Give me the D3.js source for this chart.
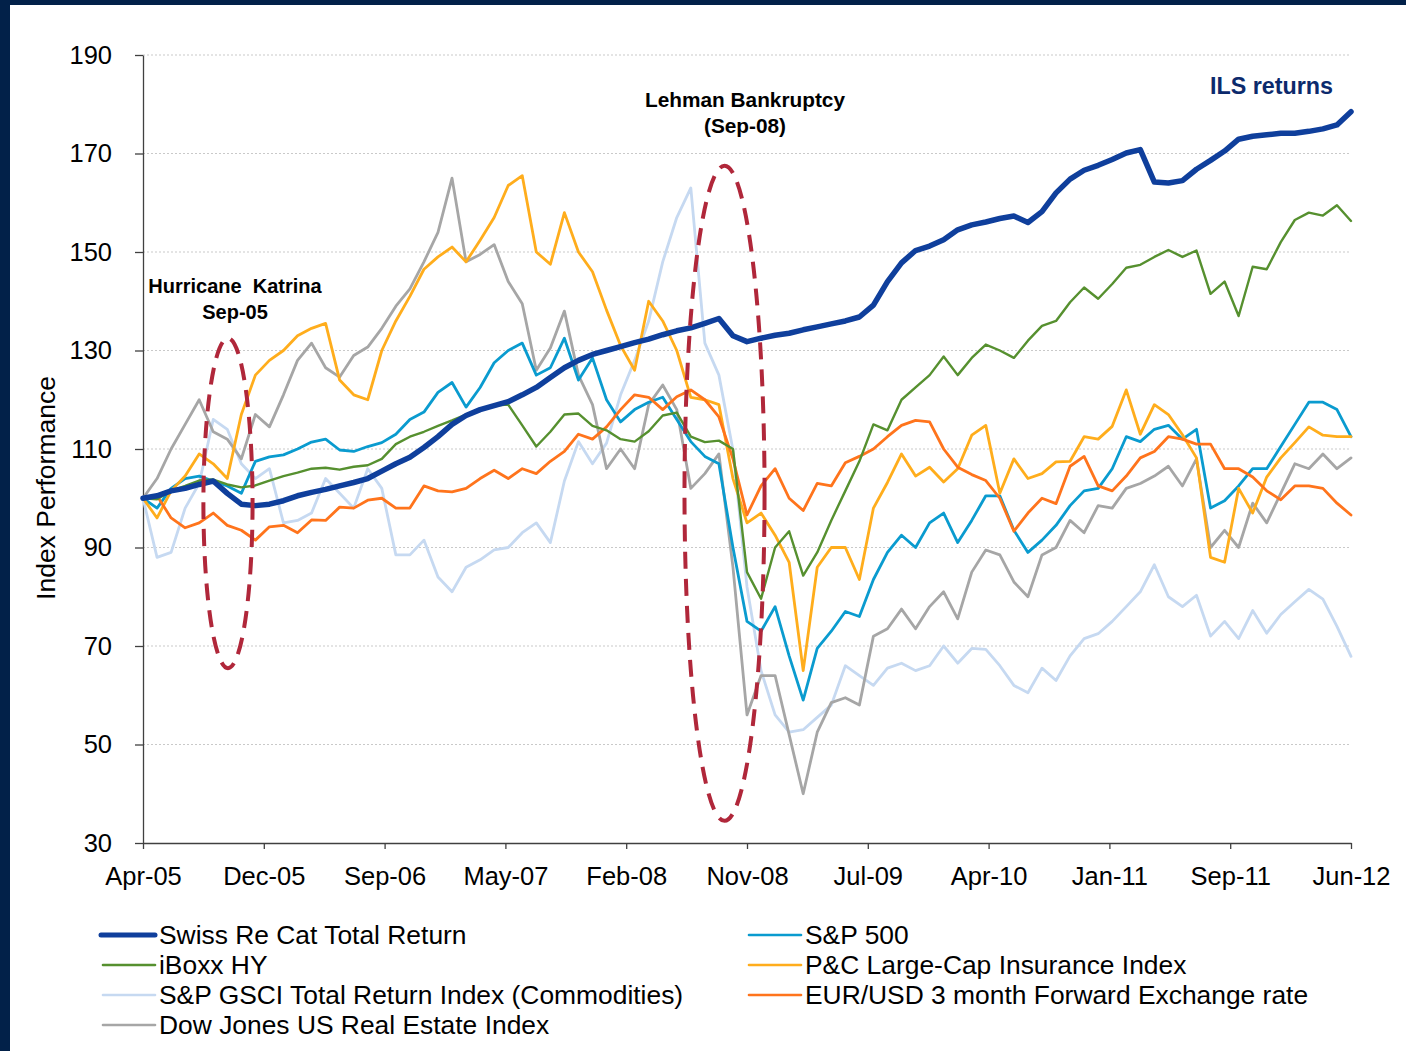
<!DOCTYPE html>
<html>
<head>
<meta charset="utf-8">
<script src="https://cdn.jsdelivr.net/npm/d3@7"></script>
<style>
  html, body { margin: 0; padding: 0; background: #fff; }
  svg { display: block; }
  text { font-family: "Liberation Sans", Arial, sans-serif; }
</style>
</head>
<body>
<svg width="1406" height="1051"></svg>
<script>
var svg = d3.select('svg');

// tick labels, one every 8.6 months (Apr-05 .. Jun-12)
var xLabels = ['Apr-05', 'Dec-05', 'Sep-06', 'May-07', 'Feb-08', 'Nov-08', 'Jul-09', 'Apr-10', 'Jan-11', 'Sep-11', 'Jun-12'];
var yTicks = [30, 50, 70, 90, 110, 130, 150, 170, 190];

// monthly index values, Apr-05 (0) .. Jun-12 (86)
var swissRe = [100, 100.5, 101.5, 102, 102.8, 103.5, 101, 98.8, 98.5, 98.8, 99.5, 100.5, 101.2, 101.8, 102.5, 103.2, 104, 105.5,
  107, 108.3, 110.3, 112.5, 115, 116.8, 118, 118.8, 119.6, 121, 122.5, 124.5, 126.5, 128, 129.2, 130, 130.8, 131.6, 132.3,
  133.2, 134, 134.6, 135.5, 136.5, 133, 131.8, 132.5, 133.1, 133.5, 134.2, 134.8, 135.4, 136, 136.8, 139.2, 144, 147.8,
  150.3, 151.2, 152.5, 154.5, 155.5, 156.1, 156.8, 157.3, 156, 158.2, 162, 164.8, 166.6, 167.6, 168.8, 170.1, 170.8,
  164.2, 164, 164.5, 166.8, 168.6, 170.5, 172.9, 173.5, 173.8, 174.1, 174.1, 174.5, 175, 175.8, 178.5];

var sp500 = [100, 98, 102, 104, 104.5, 103.5, 102.5, 101, 107.5, 108.4, 108.8, 110, 111.4, 112, 109.8, 109.5, 110.5, 111.3,
  113, 116, 117.5, 121.5, 123.5, 118.5, 122.5, 127.5, 130, 131.5, 125, 126.5, 132.5, 124, 128.5, 120, 115.5, 118, 119.5,
  120.5, 116, 111.5, 108.5, 107, 90, 75, 73, 78, 68, 59, 69.5, 73, 77, 76, 83.5, 89, 92.5, 90, 95, 97, 91, 95.5, 100.5,
  100.5, 93.5, 89, 91.5, 94.5, 98.5, 101.5, 102, 106, 112.5, 111.5, 114, 114.8, 112, 114, 98, 99.5, 102.5, 106, 106,
  110.5, 115, 119.5, 119.5, 118, 112.5];

var iboxx = [100, 99.8, 101.5, 102.5, 103.6, 103.8, 102.8, 102.2, 102.6, 103.6, 104.5, 105.2, 106, 106.2, 105.8, 106.4,
  106.7, 108, 111, 112.5, 113.5, 114.7, 115.8, 117, 118, 118.8, 119, 114.8, 110.5, 113.5, 117, 117.2, 114.7, 113.8, 112,
  111.5, 113.6, 116.8, 117.4, 112.5, 111.4, 111.7, 110, 85, 79.6, 90, 93.3, 84.3, 89, 95.5, 101.5, 107.5, 115, 113.8, 120,
  122.5, 125, 128.8, 125, 128.5, 131.2, 130, 128.5, 132, 135, 136, 139.8, 142.8, 140.5, 143.5, 146.8, 147.4, 149, 150.4,
  149, 150.3, 141.5, 144, 137, 147, 146.5, 152, 156.5, 158, 157.4, 159.5, 156.3];

var pcInsurance = [100, 96, 101.5, 104.5, 109, 107, 104, 117, 125, 128, 130, 133, 134.5, 135.5, 124, 121, 120, 130, 136,
  141, 146.5, 149, 151, 148, 152.4, 157, 163.5, 165.5, 150, 147.5, 158, 150, 146, 138.2, 131, 126, 140, 136, 130, 120.5,
  120, 119, 104, 95, 97, 92.5, 87, 65, 86, 90, 90, 83.5, 98, 103.2, 109, 104.5, 106.3, 103.3, 106, 112.8, 114.8, 101, 108,
  104, 105, 107.4, 107.5, 112.5, 112, 114.6, 122, 113, 119, 117, 112.9, 108.2, 88, 87, 102, 97, 104.3, 108.2, 111.3,
  114.5, 112.8, 112.5, 112.5];

var gsci = [100, 88, 89, 98, 103, 116, 114, 107, 104, 106, 95, 95.5, 97, 104, 101, 98, 106, 102, 88.5, 88.5, 91.5, 84, 81,
  86, 87.5, 89.5, 90, 93, 95, 91, 103.5, 111.5, 107, 111.2, 121, 128, 136, 148, 157, 163, 131.5, 125, 109.8, 82, 65, 56,
  52.5, 53, 55.5, 58, 66, 64, 62, 65.5, 66.5, 65, 66, 70, 66.5, 69.5, 69.3, 66, 62, 60.5, 65.5, 63, 68, 71.5, 72.5, 75,
  78, 81, 86.5, 80, 78, 80.3, 72, 75, 71.5, 77.2, 72.6, 76.4, 79, 81.5, 79.5, 74, 67.9];

var eurUsd = [100, 100.5, 96, 94, 95, 97, 94.5, 93.5, 91.5, 94.2, 94.5, 93, 95.6, 95.5, 98.2, 98, 99.6, 100, 98, 98, 102.5,
  101.5, 101.3, 102, 104, 105.7, 104, 106, 105, 107.5, 109.5, 113, 112, 114.5, 118, 121, 120.5, 118, 120.6, 122, 120,
  116.5, 108, 96.6, 102.5, 106, 100, 97.5, 103, 102.5, 107.2, 108.5, 110, 112.5, 114.8, 115.8, 115.5, 110, 106.3, 104.8,
  103.6, 100, 93.3, 97, 100, 98.9, 106.5, 108.5, 102.5, 101.5, 104.5, 108.2, 109.5, 112.5, 112, 111, 111, 106, 106,
  104.3, 101.5, 99.7, 102.5, 102.5, 102, 99, 96.6];

var djRealEstate = [100, 104, 110, 115, 120, 113.5, 112, 108, 117, 114.5, 121, 128, 131.5, 126.5, 124.6, 129, 130.7, 134.5,
  139, 142.5, 148, 154, 165, 148, 149.5, 151.5, 144, 139.5, 126, 130.5, 138, 125, 119, 106, 110, 106, 119, 123, 118, 102,
  105, 109, 86, 56, 64, 64, 52, 40, 52.5, 58.5, 59.5, 58, 72, 73.5, 77.5, 73.5, 78, 81, 75.5, 85, 89.5, 88.5, 83, 80,
  88.5, 90, 95.5, 93, 98.5, 98, 102, 103, 104.5, 106.5, 102.5, 108, 90, 93.5, 90, 99, 95, 101, 107, 106, 109, 106, 108.2];

// legend order (Excel reads row by row)
var seriesNames = ['Swiss Re Cat Total Return', 'S&P 500', 'iBoxx HY', 'P&C Large-Cap Insurance Index',
  'S&P GSCI Total Return Index (Commodities)', 'EUR/USD 3 month Forward Exchange rate', 'Dow Jones US Real Estate Index'];
var seriesValues = [swissRe, sp500, iboxx, pcInsurance, gsci, eurUsd, djRealEstate];
var seriesColors = ['#0f3f9c', '#0a9bcf', '#56902f', '#ffad1c', '#c6d9f1', '#ff741c', '#a6a6a6'];
var seriesWidths = [5.5, 2.8, 2.4, 2.8, 2.8, 2.8, 2.8];

// event ellipses: centre month, centre value, radius in months, radius in index points
var events = [
  {name: 'katrina', t: 6.05, v: 99, rt: 1.75, rv: 33.5},
  {name: 'lehman', t: 41.4, v: 101, rt: 2.85, rv: 66.5}
];

var x = d3.scaleLinear().domain([0, 86]).range([143, 1351]);
var y = d3.scaleLinear().domain([30, 190]).range([843, 55]);

// frame
svg.append('rect').attr('x', 0).attr('y', 0).attr('width', 1406).attr('height', 1051).attr('fill', '#022149');
svg.append('rect').attr('x', 10).attr('y', 5).attr('width', 1396).attr('height', 1046).attr('fill', '#ffffff');

// gridlines
svg.append('g').selectAll('line')
  .data(yTicks.filter(function (d) { return d > 30; }))
  .enter()
  .append('line')
  .attr('x1', x(0)).attr('x2', x(86))
  .attr('y1', function (d) { return y(d); })
  .attr('y2', function (d) { return y(d); })
  .attr('stroke', '#c9c9c9')
  .attr('stroke-width', 1)
  .attr('stroke-dasharray', '2,2');

// axes
var xAxis = d3.axisBottom(x)
  .tickValues(d3.range(11).map(function (i) { return i * 8.6; }))
  .tickFormat(function (d, i) { return xLabels[i]; })
  .tickSize(6).tickSizeOuter(0).tickPadding(18);
var gx = svg.append('g').attr('transform', 'translate(0,' + y(30) + ')').call(xAxis);

var yAxis = d3.axisLeft(y).tickValues(yTicks).tickSize(8).tickSizeOuter(0).tickPadding(23);
var gy = svg.append('g').attr('transform', 'translate(' + x(0) + ',0)').call(yAxis);

[gx, gy].forEach(function (g) {
  g.select('.domain').attr('stroke', '#404040').attr('stroke-width', 1.3);
  g.selectAll('.tick line').attr('stroke', '#404040').attr('stroke-width', 1.3);
  g.selectAll('.tick text').attr('fill', '#000').style('font-size', '25.5px')
    .style('font-family', '"Liberation Sans", Arial, sans-serif');
});

svg.append('text')
  .attr('transform', 'translate(55,488) rotate(-90)')
  .attr('text-anchor', 'middle')
  .style('font-size', '26.5px')
  .text('Index Performance');

// lines, Swiss Re drawn last so it sits on top
var line = d3.line()
  .x(function (d, i) { return x(i); })
  .y(function (d) { return y(d); });

var drawOrder = [4, 6, 1, 3, 5, 2, 0];
svg.append('g').selectAll('path')
  .data(drawOrder)
  .enter()
  .append('path')
  .attr('d', function (k) { return line(seriesValues[k]); })
  .attr('fill', 'none')
  .attr('stroke', function (k) { return seriesColors[k]; })
  .attr('stroke-width', function (k) { return seriesWidths[k]; })
  .attr('stroke-linejoin', 'round')
  .attr('stroke-linecap', 'round');

// event ellipses
svg.append('g').selectAll('ellipse')
  .data(events)
  .enter()
  .append('ellipse')
  .attr('cx', function (d) { return x(d.t); })
  .attr('cy', function (d) { return y(d.v); })
  .attr('rx', function (d) { return x(d.rt) - x(0); })
  .attr('ry', function (d) { return y(0) - y(d.rv); })
  .attr('fill', 'none')
  .attr('stroke', '#b0273a')
  .attr('stroke-width', 4)
  .attr('stroke-dasharray', '17,10');

// annotations
var notes = [
  {lines: ['Hurricane  Katrina', 'Sep-05'], cx: 235, top: 293, color: '#000', size: 20},
  {lines: ['Lehman Bankruptcy', '(Sep-08)'], cx: 745, top: 107, color: '#000', size: 20.8}
];
notes.forEach(function (n) {
  n.lines.forEach(function (s, i) {
    svg.append('text')
      .attr('x', n.cx).attr('y', n.top + i * 26)
      .attr('text-anchor', 'middle')
      .attr('font-weight', 'bold')
      .style('font-size', n.size + 'px')
      .style('white-space', 'pre')
      .attr('fill', n.color)
      .text(s);
  });
});

svg.append('text')
  .attr('x', 1333).attr('y', 94)
  .attr('text-anchor', 'end')
  .attr('font-weight', 'bold')
  .style('font-size', '23.3px')
  .attr('fill', '#0c2a6c')
  .text('ILS returns');

// legend: two columns
var legendPos = [[0, 0], [1, 0], [0, 1], [1, 1], [0, 2], [1, 2], [0, 3]];
var leg = svg.append('g').selectAll('g')
  .data(seriesNames)
  .enter()
  .append('g')
  .attr('transform', function (d, i) {
    var p = legendPos[i];
    return 'translate(' + (p[0] ? 747 : 101) + ',' + (935 + p[1] * 30) + ')';
  });

leg.append('line')
  .attr('x1', function (d, i) { return i === 0 ? 0 : 2; })
  .attr('x2', 54)
  .attr('y1', 0).attr('y2', 0)
  .attr('stroke', function (d, i) { return seriesColors[i]; })
  .attr('stroke-width', function (d, i) { return i === 0 ? 5 : 2.6; })
  .attr('stroke-linecap', 'round');

leg.append('text')
  .attr('x', 58)
  .attr('y', 9)
  .style('font-size', '26.4px')
  .attr('fill', '#000')
  .text(function (d) { return d; });
</script>
</body>
</html>
